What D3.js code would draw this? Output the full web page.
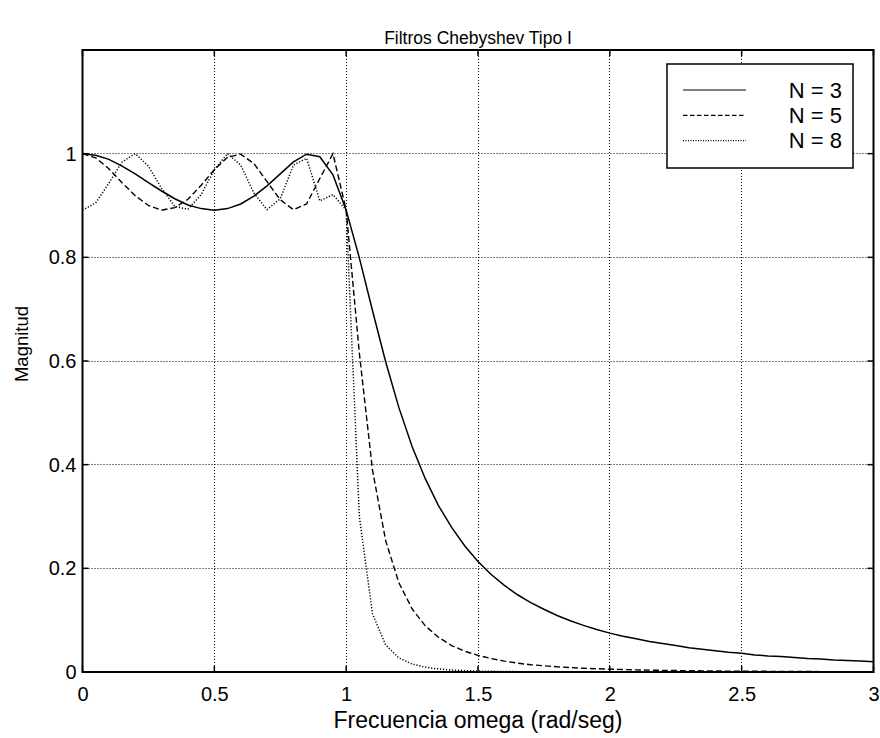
<!DOCTYPE html>
<html>
<head>
<meta charset="utf-8">
<script src="https://cdn.jsdelivr.net/npm/d3@7"></script>
<style>
  body { margin: 0; background: #fff; }
  svg { display: block; font-family: "Liberation Sans", Arial, sans-serif; }
</style>
</head>
<body>
<svg class="canvas" width="880" height="738"></svg>
<script>
// frecuencias muestreadas (rad/seg)
var omega = [0, 0.05, 0.1, 0.15, 0.2, 0.25, 0.3, 0.35, 0.4, 0.45,
    0.5, 0.55, 0.6, 0.65, 0.7, 0.75, 0.8, 0.85, 0.9, 0.95,
    1, 1.05, 1.1, 1.15, 1.2, 1.25, 1.3, 1.35, 1.4, 1.45,
    1.5, 1.55, 1.6, 1.65, 1.7, 1.75, 1.8, 1.85, 1.9, 1.95,
    2, 2.05, 2.1, 2.15, 2.2, 2.25, 2.3, 2.35, 2.4, 2.45,
    2.5, 2.55, 2.6, 2.65, 2.7, 2.75, 2.8, 2.85, 2.9, 2.95, 3];

var magN3 = [1.000, 0.997, 0.989, 0.976, 0.961, 0.944, 0.928, 0.913, 0.901, 0.894,
    0.891, 0.894, 0.903, 0.918, 0.938, 0.961, 0.984, 0.999, 0.994, 0.959,
    0.891, 0.799, 0.697, 0.598, 0.510, 0.435, 0.373, 0.321, 0.279, 0.243,
    0.213, 0.188, 0.167, 0.149, 0.134, 0.121, 0.109, 0.099, 0.090, 0.082,
    0.075, 0.069, 0.064, 0.059, 0.055, 0.051, 0.047, 0.044, 0.041, 0.038,
    0.036, 0.033, 0.031, 0.030, 0.028, 0.026, 0.025, 0.023, 0.022, 0.021, 0.020];

var magN5 = [1.000, 0.992, 0.971, 0.944, 0.919, 0.900, 0.891, 0.896, 0.912, 0.939,
    0.969, 0.993, 0.999, 0.981, 0.946, 0.911, 0.892, 0.903, 0.952, 1.000,
    0.891, 0.615, 0.389, 0.253, 0.172, 0.122, 0.089, 0.067, 0.051, 0.040,
    0.032, 0.026, 0.021, 0.017, 0.014, 0.012, 0.010, 0.0086, 0.0073, 0.0063,
    0.0054, 0.0047, 0.0041, 0.0036, 0.0032, 0.0028, 0.0025, 0.0022, 0.0020, 0.0017,
    0.0016, 0.0014, 0.0013, 0.0011, 0.0010, 0.0009, 0.0008, 0.0008, 0.0007, 0.0006, 0.0006];

var magN8 = [0.891, 0.905, 0.943, 0.984, 1.000, 0.976, 0.933, 0.898, 0.893, 0.921,
    0.969, 1.000, 0.978, 0.924, 0.892, 0.913, 0.978, 0.991, 0.909, 0.921,
    0.891, 0.300, 0.112, 0.052, 0.027, 0.0154, 0.0093, 0.0058, 0.0038, 0.0026,
    0.0018, 0.0013, 0.0009, 0.0007, 0.0005, 0.0004, 0.0003, 0.0002, 0.0002, 0.0001,
    0.0001, 0.0001, 0.0001, 0.0001, 0, 0, 0, 0, 0, 0,
    0, 0, 0, 0, 0, 0, 0, 0, 0, 0, 0];

var seriesNames = ["N = 3", "N = 5", "N = 8"];
var xTicks = [0, 0.5, 1, 1.5, 2, 2.5, 3];
var yTicks = [0, 0.2, 0.4, 0.6, 0.8, 1];

var series = [
    { name: seriesNames[0], values: magN3, dash: null, width: 1.5, legendDash: null },
    { name: seriesNames[1], values: magN5, dash: "6,3", width: 1.4, legendDash: "4.5,2.5" },
    { name: seriesNames[2], values: magN8, dash: "1.2,1.8", width: 1.5, legendDash: "1,1.5" }
];

// caja de ejes
var axL = 82.5, axR = 873.5, axT = 50, axB = 672;

var svg = d3.select(".canvas");

var x = d3.scaleLinear().domain([0, 3]).range([axL, axR]);
var y = d3.scaleLinear().domain([0, 1.2]).range([axB, axT]);

// posicion nitida para lineas de 1px
function crisp(v) { return Math.floor(v) + 0.5; }

// grid
svg.append("g")
    .selectAll("line")
    .data(xTicks.slice(1, -1))
    .enter().append("line")
        .attr("x1", d => crisp(x(d))).attr("x2", d => crisp(x(d)))
        .attr("y1", axT).attr("y2", axB)
        .attr("stroke", "#000")
        .attr("stroke-width", 1)
        .attr("stroke-dasharray", "1,2");

svg.append("g")
    .selectAll("line")
    .data(yTicks.slice(1))
    .enter().append("line")
        .attr("x1", axL).attr("x2", axR)
        .attr("y1", d => crisp(y(d))).attr("y2", d => crisp(y(d)))
        .attr("stroke", "#000")
        .attr("stroke-width", 1)
        .attr("stroke-dasharray", "1,2");

// curvas
var line = d3.line()
    .x((d, i) => x(omega[i]))
    .y(d => y(d));

svg.append("defs").append("clipPath").attr("id", "clip")
    .append("rect")
        .attr("x", axL).attr("y", axT)
        .attr("width", axR - axL).attr("height", axB - axT);

svg.append("g")
    .attr("clip-path", "url(#clip)")
    .selectAll("path")
    .data(series)
    .enter().append("path")
        .attr("d", d => line(d.values))
        .attr("fill", "none")
        .attr("stroke", "#000")
        .attr("stroke-width", d => d.width)
        .attr("stroke-dasharray", d => d.dash);

// ejes (ticks hacia dentro en los cuatro lados)
var tickLen = 6;
var axBottom = d3.axisBottom(x).tickValues(xTicks).tickSize(0).tickPadding(15).tickFormat(d3.format("~g"));
var axLeft = d3.axisLeft(y).tickValues(yTicks).tickSize(0).tickPadding(6).tickFormat(d3.format("~g"));

var gx = svg.append("g").attr("transform", "translate(0," + axB + ")").call(axBottom);
var gy = svg.append("g").attr("transform", "translate(" + axL + ",0)").call(axLeft);

[gx, gy].forEach(function(g) {
    g.select(".domain").remove();
    g.selectAll("text")
        .attr("font-family", "Liberation Sans, Arial, sans-serif")
        .attr("font-size", 20)
        .attr("fill", "#000");
});

var ticks = svg.append("g").attr("stroke", "#000").attr("stroke-width", 1.5);
xTicks.forEach(function(t) {
    ticks.append("line").attr("x1", x(t)).attr("x2", x(t)).attr("y1", axB).attr("y2", axB - tickLen);
    ticks.append("line").attr("x1", x(t)).attr("x2", x(t)).attr("y1", axT).attr("y2", axT + tickLen);
});
yTicks.forEach(function(t) {
    ticks.append("line").attr("x1", axL).attr("x2", axL + tickLen).attr("y1", y(t)).attr("y2", y(t));
    ticks.append("line").attr("x1", axR).attr("x2", axR - tickLen).attr("y1", y(t)).attr("y2", y(t));
});

svg.append("rect")
    .attr("x", axL).attr("y", axT)
    .attr("width", axR - axL).attr("height", axB - axT)
    .attr("fill", "none")
    .attr("stroke", "#000")
    .attr("stroke-width", 2);

// textos
svg.append("text")
    .attr("x", (axL + axR) / 2)
    .attr("y", 44)
    .attr("text-anchor", "middle")
    .attr("font-size", 17.5)
    .text("Filtros Chebyshev Tipo I");

svg.append("text")
    .attr("x", (axL + axR) / 2)
    .attr("y", 728)
    .attr("text-anchor", "middle")
    .attr("font-size", 23)
    .text("Frecuencia omega (rad/seg)");

svg.append("text")
    .attr("transform", "translate(28," + 344 + ")rotate(-90)")
    .attr("text-anchor", "middle")
    .attr("font-size", 18.5)
    .text("Magnitud");

// leyenda
var legend = svg.append("g");
legend.append("rect")
    .attr("x", 667).attr("y", 64)
    .attr("width", 186).attr("height", 104)
    .attr("fill", "#fff")
    .attr("stroke", "#000")
    .attr("stroke-width", 1.5);

var rows = legend.selectAll(".row")
    .data(series)
    .enter().append("g")
    .attr("class", "row")
    .attr("transform", (d, i) => "translate(0," + (90 + i * 25.3) + ")");

rows.append("line")
    .attr("x1", 683).attr("x2", 746)
    .attr("y1", 0).attr("y2", 0)
    .attr("stroke", "#000")
    .attr("stroke-width", 1.2)
    .attr("stroke-dasharray", d => d.legendDash);

rows.append("text")
    .attr("x", 842)
    .attr("y", 7.5)
    .attr("text-anchor", "end")
    .attr("font-size", 22)
    .text(d => d.name);
</script>
</body>
</html>
